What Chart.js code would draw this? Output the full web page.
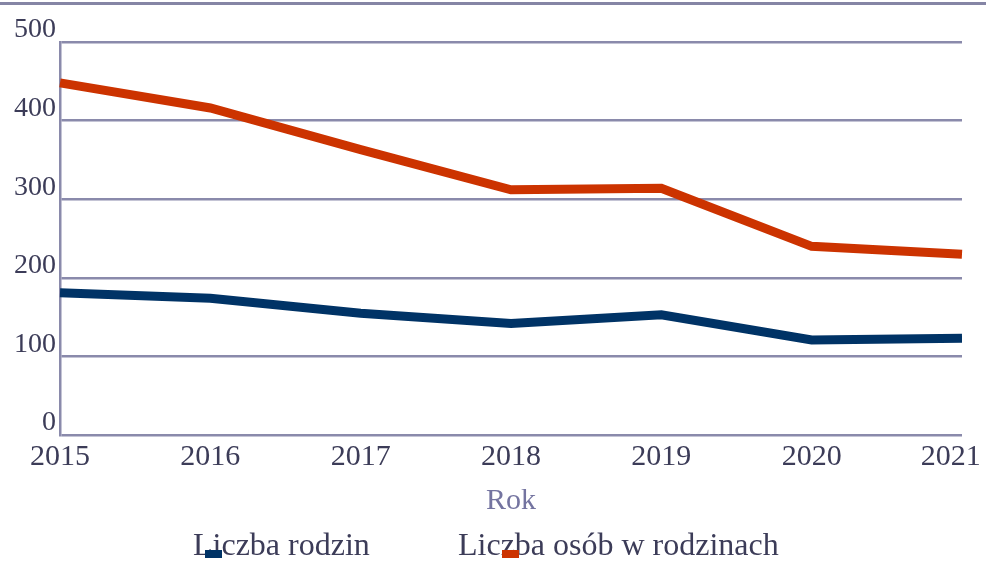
<!DOCTYPE html>
<html>
<head>
<meta charset="utf-8">
<script src="https://cdn.jsdelivr.net/npm/chart.js@4/dist/chart.umd.min.js"></script>
<style>
  html, body { margin: 0; padding: 0; background: #fff; }
  canvas { display: block; }
</style>
</head>
<body>
<canvas id="chart" width="986" height="561"></canvas>
<script>
const years = ["2015", "2016", "2017", "2018", "2019", "2020", "2021"];
const rodziny = [181, 174, 155, 142, 153, 121, 123];
const osoby = [448, 416, 363, 312, 314, 240, 230];
const seriesNames = ["Liczba rodzin", "Liczba osób w rodzinach"];
const seriesColors = ["#003366", "#cc3300"];

const gridColor = "#8a8aab";
const textColor = "#3c3c58";
const serif = "'Liberation Serif', 'Times New Roman', serif";

// thin rule across the top of the picture
const topRule = {
  id: "topRule",
  beforeDraw(chart) {
    const ctx = chart.ctx;
    ctx.save();
    ctx.fillStyle = "#8585a5";
    ctx.fillRect(0, 2, chart.width, 3);
    ctx.restore();
  }
};

// legend drawn by hand, the box sits under the text like in the original
const oddLegend = {
  id: "oddLegend",
  afterDraw(chart) {
    const ctx = chart.ctx;
    ctx.save();
    ctx.font = "32px " + serif;
    ctx.textBaseline = "alphabetic";
    const starts = [193, 458];
    const boxOffsets = [12, 44];
    const y = 555;
    chart.data.datasets.forEach((d, i) => {
      ctx.fillStyle = textColor;
      ctx.fillText(d.label, starts[i], y);
      ctx.fillStyle = d.borderColor;
      ctx.fillRect(starts[i] + boxOffsets[i], 550, 17, 8);
    });
    ctx.restore();
  }
};

new Chart(document.getElementById("chart"), {
  type: "line",
  data: {
    labels: years,
    datasets: [
      { label: seriesNames[0], data: rodziny, borderColor: seriesColors[0], backgroundColor: seriesColors[0] },
      { label: seriesNames[1], data: osoby, borderColor: seriesColors[1], backgroundColor: seriesColors[1] }
    ]
  },
  options: {
    responsive: false,
    animation: false,
    devicePixelRatio: 1,
    layout: { padding: { top: 42, right: 24, bottom: 42, left: 10 } },
    elements: {
      line: { borderWidth: 9, tension: 0, borderCapStyle: "butt", borderJoinStyle: "miter" },
      point: { radius: 0, hoverRadius: 0 }
    },
    plugins: {
      legend: { display: false },
      tooltip: { enabled: false }
    },
    scales: {
      x: {
        grid: { display: false, drawTicks: false },
        border: { display: false },
        afterFit: (scale) => { scale.paddingRight = 0; },
        ticks: {
          color: textColor, font: { family: serif, size: 30 }, padding: 4, maxRotation: 0, autoSkip: false,
          // last label is pushed back inside the picture
          callback: (v, i) => i === years.length - 1 ? years[i] + "\u00a0\u00a0\u00a0" : years[i]
        },
        title: { display: true, text: "Rok", color: "#7474a0", font: { family: serif, size: 30 }, padding: { top: 4, bottom: 0 } }
      },
      y: {
        min: 0,
        max: 500,
        grid: { color: gridColor, lineWidth: 2.5, drawTicks: false },
        border: { display: true, color: gridColor, width: 2.5 },
        ticks: { stepSize: 100, color: textColor, font: { family: serif, size: 28 }, padding: 4, labelOffset: -12 }
      }
    }
  },
  plugins: [topRule, oddLegend]
});
</script>
</body>
</html>
